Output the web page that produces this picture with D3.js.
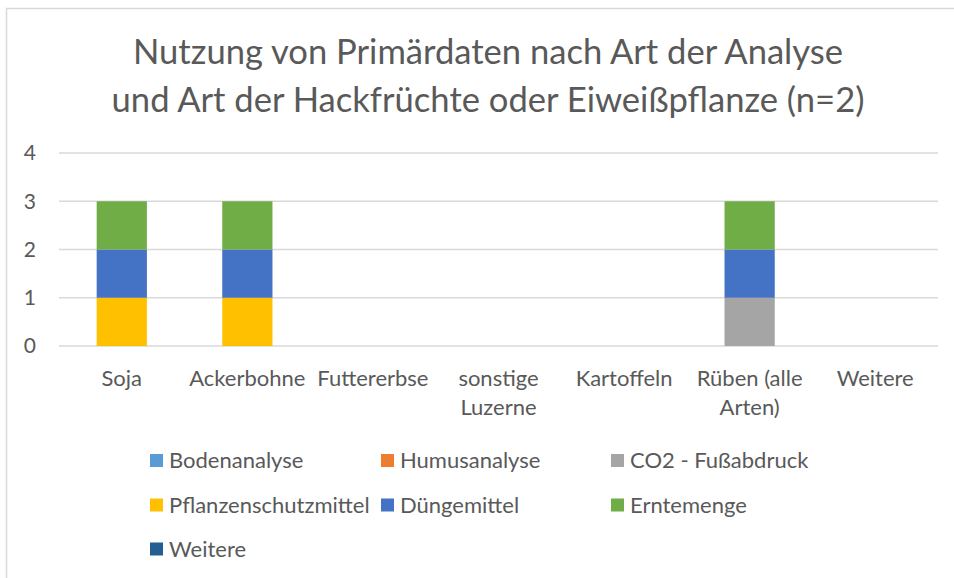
<!DOCTYPE html>
<html>
<head>
<meta charset="utf-8">
<script src="https://cdn.jsdelivr.net/npm/d3@7"></script>
<style>
  body { margin: 0; background: #fff; }
  text { font-family: Lato, "Open Sans", sans-serif; fill: #595959; }
</style>
</head>
<body>
<div id="chart"></div>
<script>
// Daten
const categories = ["Soja", "Ackerbohne", "Futtererbse", "sonstige Luzerne", "Kartoffeln", "Rüben (alle Arten)", "Weitere"];
const seriesNames = ["Bodenanalyse", "Humusanalyse", "CO2 - Fußabdruck", "Pflanzenschutzmittel", "Düngemittel", "Erntemenge", "Weitere"];
const seriesColors = ["#5B9BD5", "#ED7D31", "#A5A5A5", "#FFC000", "#4472C4", "#70AD47", "#255E91"];
const bodenanalyse = [0, 0, 0, 0, 0, 0, 0];
const humusanalyse = [0, 0, 0, 0, 0, 0, 0];
const co2 = [0, 0, 0, 0, 0, 1, 0];
const pflanzenschutz = [1, 1, 0, 0, 0, 0, 0];
const duenger = [1, 1, 0, 0, 0, 1, 0];
const erntemenge = [1, 1, 0, 0, 0, 1, 0];
const weitere = [0, 0, 0, 0, 0, 0, 0];
const yTicks = [0, 1, 2, 3, 4];
const titleLines = ["Nutzung von Primärdaten nach Art der Analyse", "und Art der Hackfrüchte oder Eiweißpflanze (n=2)"];

const width = 954, height = 578;
const plot = { left: 59, right: 938, top: 153, bottom: 346 };

const svg = d3.select("#chart").append("svg")
  .attr("width", width)
  .attr("height", height);

// Rahmen
svg.append("rect")
  .attr("x", 6.5).attr("y", 8.5)
  .attr("width", 960).attr("height", 600)
  .attr("fill", "none")
  .attr("stroke", "#d9d9d9")
  .attr("stroke-width", 1.5);

// Titel
svg.append("text")
  .attr("text-anchor", "middle")
  .attr("font-size", 34.6)
  .selectAll("tspan")
  .data(titleLines)
  .enter().append("tspan")
  .attr("x", 488)
  .attr("y", (d, i) => 64 + i * 48)
  .text(d => d);

const x = d3.scaleBand()
  .domain(categories)
  .range([plot.left, plot.right])
  .paddingInner(0.6)
  .paddingOuter(0.3);

const y = d3.scaleLinear()
  .domain([0, 4])
  .range([plot.bottom, plot.top]);

// Gitterlinien
svg.append("g")
  .selectAll("line")
  .data(yTicks)
  .enter().append("line")
  .attr("x1", plot.left).attr("x2", plot.right)
  .attr("y1", d => y(d)).attr("y2", d => y(d))
  .attr("stroke", "#d9d9d9")
  .attr("stroke-width", 1.3);

// y-Achse Beschriftung
svg.append("g")
  .selectAll("text")
  .data(yTicks)
  .enter().append("text")
  .attr("x", 36)
  .attr("y", d => y(d))
  .attr("dy", "0.35em")
  .attr("text-anchor", "end")
  .attr("font-size", 21)
  .text(d => d);

// gestapelte Daten
const table = categories.map((c, i) => ({
  cat: c,
  "Bodenanalyse": bodenanalyse[i],
  "Humusanalyse": humusanalyse[i],
  "CO2 - Fußabdruck": co2[i],
  "Pflanzenschutzmittel": pflanzenschutz[i],
  "Düngemittel": duenger[i],
  "Erntemenge": erntemenge[i],
  "Weitere": weitere[i]
}));
const stacked = d3.stack().keys(seriesNames)(table);
const color = d3.scaleOrdinal().domain(seriesNames).range(seriesColors);

svg.append("g")
  .selectAll("g")
  .data(stacked)
  .enter().append("g")
  .attr("fill", d => color(d.key))
  .selectAll("rect")
  .data(d => d.filter(p => p[1] - p[0] > 0))
  .enter().append("rect")
  .attr("x", d => x(d.data.cat))
  .attr("y", d => y(d[1]))
  .attr("width", x.bandwidth())
  .attr("height", d => y(d[0]) - y(d[1]));

// Kategorien (mit Umbruch)
function wrapLines(label, maxW, size) {
  const words = label.split(" ");
  const lines = [];
  let cur = "";
  const tmp = svg.append("text").attr("font-size", size);
  words.forEach(w => {
    const test = cur ? cur + " " + w : w;
    tmp.text(test);
    if (tmp.node().getComputedTextLength() > maxW && cur) {
      lines.push(cur);
      cur = w;
    } else {
      cur = test;
    }
  });
  lines.push(cur);
  tmp.remove();
  return lines;
}

const catG = svg.append("g");
categories.forEach(c => {
  const lines = wrapLines(c, x.step() * 0.97, 22);
  const t = catG.append("text")
    .attr("text-anchor", "middle")
    .attr("font-size", 22);
  lines.forEach((l, i) => {
    t.append("tspan")
      .attr("x", x(c) + x.bandwidth() / 2)
      .attr("y", 386 + i * 29)
      .text(l);
  });
});

// Legende
const legCols = [150, 381, 611];
const legRows = [460.5, 505, 549];
const leg = svg.append("g")
  .selectAll("g")
  .data(seriesNames)
  .enter().append("g")
  .attr("transform", (d, i) => `translate(${legCols[i % 3]},${legRows[Math.floor(i / 3)]})`);
leg.append("rect")
  .attr("x", 0).attr("y", -6.5)
  .attr("width", 13).attr("height", 13)
  .attr("fill", d => color(d));
leg.append("text")
  .attr("x", 19)
  .attr("dy", "0.35em")
  .attr("font-size", 22)
  .text(d => d);
</script>
</body>
</html>
